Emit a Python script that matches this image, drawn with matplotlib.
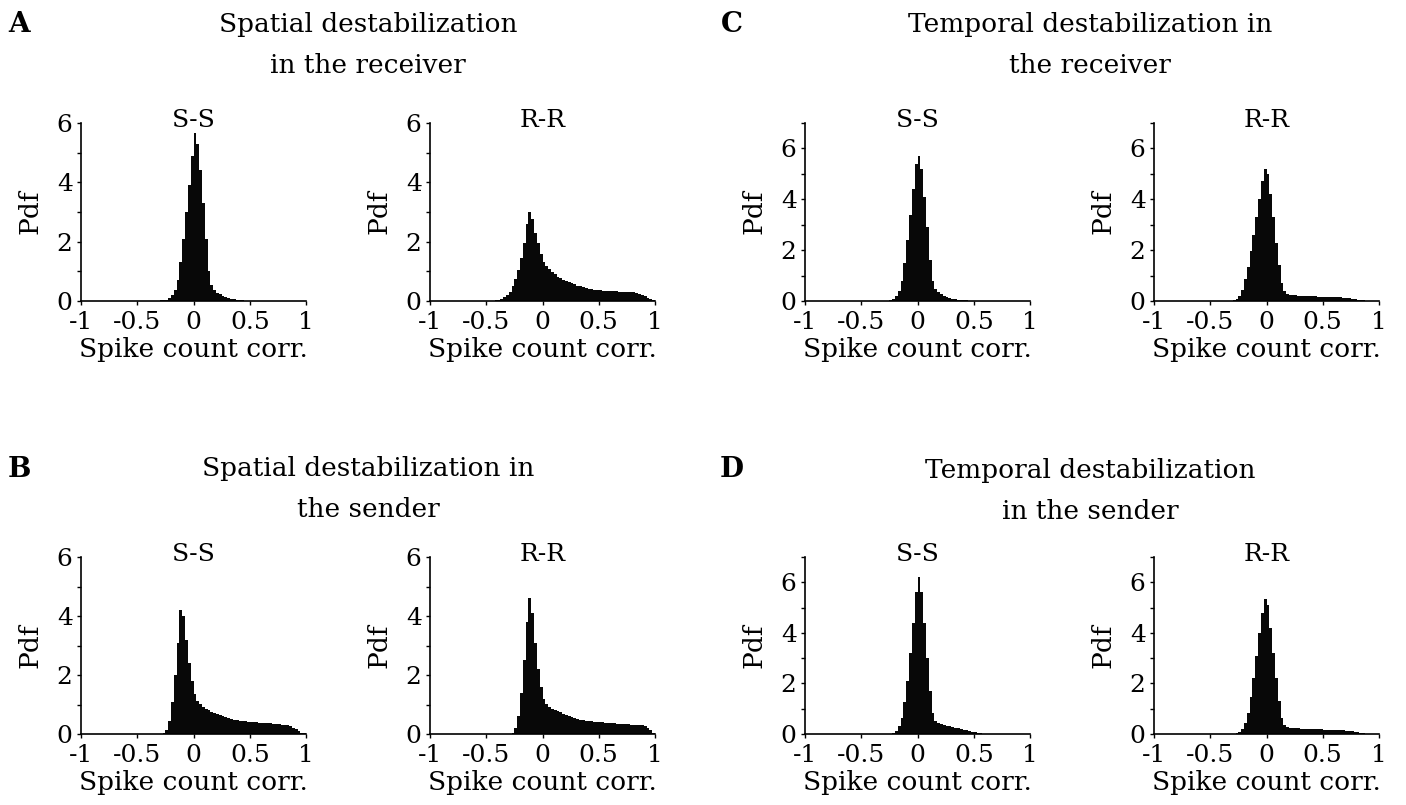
import numpy as np
import matplotlib
matplotlib.use("Agg")
import matplotlib.pyplot as plt

plt.rcParams['font.family'] = ['DejaVu Serif']
plt.rcParams['font.size'] = 19

W, H = 1406, 805
bw = 0.025  # bin width

# histogram heights (pdf), bins start at the given left edge, step bw
a_ss_start = -0.35
a_ss = [0.005, 0.01, 0.02, 0.03, 0.05, 0.10, 0.20, 0.38, 0.70, 1.30, 2.10, 3.00,
        3.90, 4.90, 5.65, 5.30, 4.40, 3.30, 2.10, 1.00, 0.55, 0.38, 0.28, 0.22,
        0.17, 0.13, 0.10, 0.08, 0.06, 0.04, 0.03, 0.02, 0.015, 0.01, 0.008, 0.005, 0.003]

a_rr_start = -0.45
a_rr = [0.01, 0.02, 0.04, 0.07, 0.12, 0.20, 0.32, 0.50, 0.75, 1.05, 1.45, 1.95,
        2.60, 3.00, 2.75, 2.30, 1.95, 1.60, 1.32, 1.18, 1.08, 0.98, 0.90, 0.82,
        0.76, 0.71, 0.67, 0.63, 0.59, 0.56, 0.52, 0.49, 0.46, 0.44, 0.42, 0.40,
        0.38, 0.37, 0.36, 0.35, 0.35, 0.34, 0.34, 0.33, 0.33, 0.32, 0.32, 0.31,
        0.31, 0.30, 0.29, 0.27, 0.24, 0.20, 0.16, 0.11, 0.06, 0.02]

b_ss_start = -0.30
b_ss = [0.01, 0.04, 0.15, 0.45, 1.10, 2.00, 3.10, 4.20, 4.00, 3.20, 2.40, 1.80,
        1.35, 1.12, 1.02, 0.93, 0.86, 0.80, 0.76, 0.72, 0.68, 0.64, 0.60, 0.56,
        0.53, 0.50, 0.48, 0.46, 0.45, 0.44, 0.43, 0.42, 0.41, 0.40, 0.39, 0.38,
        0.38, 0.37, 0.37, 0.36, 0.35, 0.34, 0.33, 0.32, 0.31, 0.29, 0.27, 0.22,
        0.16, 0.10, 0.05, 0.02]

b_rr_start = -0.30
b_rr = [0.01, 0.05, 0.20, 0.60, 1.40, 2.50, 3.80, 4.60, 4.10, 3.10, 2.20, 1.60,
        1.20, 1.02, 0.92, 0.86, 0.81, 0.77, 0.73, 0.69, 0.65, 0.62, 0.58, 0.54,
        0.51, 0.49, 0.47, 0.45, 0.44, 0.43, 0.42, 0.41, 0.40, 0.39, 0.38, 0.37,
        0.36, 0.36, 0.35, 0.34, 0.34, 0.33, 0.33, 0.32, 0.32, 0.31, 0.30, 0.29,
        0.26, 0.20, 0.12, 0.04]

c_ss_start = -0.30
c_ss = [0.005, 0.01, 0.03, 0.07, 0.18, 0.40, 0.80, 1.50, 2.40, 3.40, 4.40, 5.40,
        5.70, 5.20, 4.10, 2.90, 1.60, 0.80, 0.48, 0.35, 0.27, 0.21, 0.16, 0.12,
        0.09, 0.07, 0.05, 0.04, 0.03, 0.02, 0.01, 0.005]

c_rr_start = -0.325
c_rr = [0.01, 0.03, 0.08, 0.20, 0.45, 0.85, 1.35, 1.95, 2.60, 3.30, 4.00, 4.70,
        5.20, 5.00, 4.20, 3.30, 2.30, 1.40, 0.70, 0.38, 0.28, 0.24, 0.23, 0.22,
        0.21, 0.20, 0.20, 0.19, 0.19, 0.18, 0.18, 0.17, 0.17, 0.17, 0.16, 0.16,
        0.15, 0.15, 0.14, 0.14, 0.13, 0.12, 0.11, 0.09, 0.07, 0.05, 0.03, 0.02, 0.01]

d_ss_start = -0.25
d_ss = [0.01, 0.04, 0.12, 0.30, 0.65, 1.25, 2.10, 3.20, 4.40, 5.60, 6.20, 5.60,
        4.40, 3.00, 1.70, 0.85, 0.50, 0.42, 0.38, 0.35, 0.32, 0.30, 0.27, 0.25,
        0.22, 0.19, 0.17, 0.14, 0.11, 0.09, 0.07, 0.05, 0.03, 0.01]

d_rr_start = -0.30
d_rr = [0.01, 0.03, 0.08, 0.20, 0.45, 0.85, 1.45, 2.20, 3.10, 4.00, 4.80, 5.35,
        5.10, 4.20, 3.20, 2.20, 1.30, 0.65, 0.36, 0.28, 0.25, 0.24, 0.23, 0.22,
        0.21, 0.21, 0.20, 0.20, 0.19, 0.19, 0.18, 0.18, 0.17, 0.17, 0.16, 0.16,
        0.15, 0.15, 0.14, 0.14, 0.13, 0.12, 0.10, 0.08, 0.06, 0.04, 0.02, 0.01]

xticks = [-1, -0.5, 0, 0.5, 1]
xticklabels = ['-1', '-0.5', '0', '0.5', '1']

fig = plt.figure(figsize=(W / 100, H / 100), dpi=100)


def px_axes(x0, x1, ytop, ybot):
    return fig.add_axes([x0 / W, 1 - ybot / H, (x1 - x0) / W, (ybot - ytop) / H])


def hist_panel(ax, start, vals, title, ymax):
    edges = start + bw * np.arange(len(vals))
    ax.bar(edges, vals, width=bw, align='edge', color='#080808', linewidth=0)
    ax.set_xlim(-1, 1)
    ax.set_ylim(0, ymax)
    ax.spines[['top', 'right']].set_visible(False)
    ax.spines[['left', 'bottom']].set_linewidth(1.2)
    ax.set_xticks(xticks)
    ax.set_xticklabels(xticklabels)
    ax.set_yticks([0, 2, 4, 6])
    ax.set_yticks(range(0, ymax + 1), minor=True)
    ax.tick_params(which='both', direction='out', length=3, width=1,
                   labelsize=18)
    ax.tick_params(axis='x', pad=4)
    ax.tick_params(axis='y', pad=3)
    ax.set_xlabel('Spike count corr.', labelpad=2)
    ax.set_ylabel('Pdf', labelpad=10)
    # title sits slightly over the top of the axes, as in the figure
    ax.set_title(title, y=1.0, pad=-3, fontsize=18)


top = (123, 301)
bot = (557, 734)
cols = [(81, 306), (430, 655), (805, 1030), (1154, 1379)]

panels = [
    (cols[0], top, a_ss_start, a_ss, 'S-S', 6),
    (cols[1], top, a_rr_start, a_rr, 'R-R', 6),
    (cols[0], bot, b_ss_start, b_ss, 'S-S', 6),
    (cols[1], bot, b_rr_start, b_rr, 'R-R', 6),
    (cols[2], top, c_ss_start, c_ss, 'S-S', 7),
    (cols[3], top, c_rr_start, c_rr, 'R-R', 7),
    (cols[2], bot, d_ss_start, d_ss, 'S-S', 7),
    (cols[3], bot, d_rr_start, d_rr, 'R-R', 7),
]
for (x0, x1), (yt, yb), start, vals, title, ymax in panels:
    ax = px_axes(x0, x1, yt, yb)
    hist_panel(ax, start, vals, title, ymax)

# panel letters
for letter, x, y in [('A', 19, 32), ('B', 19, 477), ('C', 732, 32), ('D', 732, 477)]:
    fig.text(x / W, 1 - y / H, letter, fontsize=20, fontweight='bold',
             ha='center', va='baseline')

# group titles, one text per line (baseline positions)
titles = [
    ('Spatial destabilization', 368, 32),
    ('in the receiver', 368, 73),
    ('Spatial destabilization in', 368, 476),
    ('the sender', 368, 517),
    ('Temporal destabilization in', 1090, 32),
    ('the receiver', 1090, 73),
    ('Temporal destabilization', 1090, 478),
    ('in the sender', 1090, 519),
]
for txt, x, y in titles:
    fig.text(x / W, 1 - y / H, txt, ha='center', va='baseline', fontsize=19)

fig.savefig('out.png', dpi=100)
